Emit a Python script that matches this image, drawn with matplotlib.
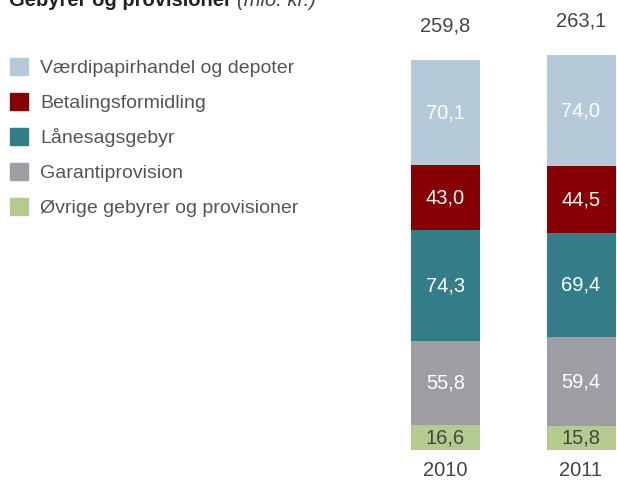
import matplotlib
matplotlib.use("Agg")
import matplotlib.pyplot as plt
from matplotlib.patches import Patch

plt.rcParams['font.family'] = ['Liberation Sans', 'DejaVu Sans']

years = ["2010", "2011"]
categories = ["Øvrige gebyrer og provisioner", "Garantiprovision", "Lånesagsgebyr",
              "Betalingsformidling", "Værdipapirhandel og depoter"]
values = {
    "Øvrige gebyrer og provisioner": [16.6, 15.8],
    "Garantiprovision": [55.8, 59.4],
    "Lånesagsgebyr": [74.3, 69.4],
    "Betalingsformidling": [43.0, 44.5],
    "Værdipapirhandel og depoter": [70.1, 74.0],
}
totals = [259.8, 263.1]
colors = ["#b3cb8e", "#9d9ea3", "#337e88", "#870003", "#b4cad8"]
label_colors = ["#444444", "white", "white", "white", "white"]

W, H = 617, 480
fs = 14
fig = plt.figure(figsize=(W / 100, H / 100), dpi=100)
ax = fig.add_axes([0, 30 / H, 1, 450 / H])
ppu = 135.5
ax.set_xlim(-445.5 / ppu, (W - 445.5) / ppu)
ax.set_ylim(0, 300)
ax.axis("off")

x = [0, 1]
bottom = [0.0, 0.0]
for cat, col, lc in zip(categories, colors, label_colors):
    vals = values[cat]
    ax.bar(x, vals, width=69 / ppu, bottom=bottom, color=col, linewidth=0)
    for xi, v, b in zip(x, vals, bottom):
        ax.text(xi, b + v / 2, f"{v:.1f}".replace(".", ","), ha="center", va="center",
                color=lc, fontsize=14.5)
    bottom = [b + v for b, v in zip(bottom, vals)]

for xi, t, b in zip(x, totals, bottom):
    ax.annotate(f"{t:.1f}".replace(".", ","), (xi, b), xytext=(0, 18), textcoords="offset points",
                ha="center", va="bottom", color="#444444", fontsize=14.5)
    ax.annotate(years[xi], (xi, 0), xytext=(0, -8), textcoords="offset points",
                ha="center", va="top", color="#444444", fontsize=14.5)

handles = [Patch(color=c, label=l) for c, l in zip(colors[::-1], categories[::-1])]
fig.legend(handles=handles, loc="upper left", bbox_to_anchor=(10 / W, 1 - 58 / H),
           frameon=False, fontsize=fs, handlelength=0.95, handleheight=0.95,
           handletextpad=0.6, labelspacing=0.82, borderpad=0, borderaxespad=0,
           labelcolor="#555555")

fig.text(9 / W, 1 - 6 / H, "Gebyrer og provisioner", fontsize=14.5, fontweight="bold",
         color="#222222", va="baseline", ha="left")
fig.text(237 / W, 1 - 6 / H, "(mio. kr.)", fontsize=14.5, fontstyle="italic",
         color="#444444", va="baseline", ha="left")

fig.savefig("out.png", dpi=100)
